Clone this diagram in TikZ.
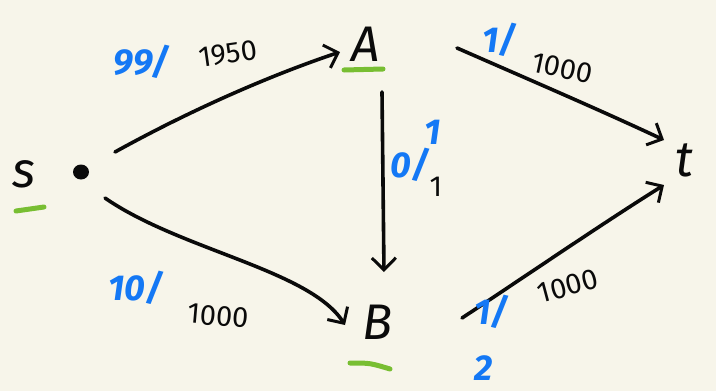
\documentclass[tikz,border=0pt]{standalone}
\usepackage{fontspec}
\setmainfont{Fira Sans}
\usetikzlibrary{arrows.meta}
\definecolor{paper}{RGB}{247,245,234}
\definecolor{ink}{RGB}{10,10,10}
\definecolor{flowblue}{RGB}{20,120,245}
\definecolor{markgreen}{RGB}{120,190,50}
\tikzset{
  edge/.style={draw=ink, line width=3.6pt, line cap=round,
    -{Straight Barb[length=12pt, width=24pt, line width=3pt]}},
  vertex/.style={font=\fontsize{50}{50}\selectfont\itshape, text=ink, inner sep=0pt},
  capacity/.style={font=\fontsize{29}{29}\selectfont, text=ink, inner sep=0pt},
  flow/.style={font=\fontsize{36}{36}\selectfont\bfseries\itshape, text=flowblue, inner sep=0pt},
  greenline/.style={draw=markgreen, line width=5pt, line cap=round},
}
\begin{document}
\begin{tikzpicture}[x=1pt, y=-1pt]
  \fill[paper] (0,0) rectangle (716,391);
  \useasboundingbox (0,0) rectangle (716,391);

  % vertices
  \node[vertex] (s) at (24,174) {s};
  \fill[ink] (81,172) ellipse (8pt and 7.5pt);
  \coordinate (sdot) at (81,172);
  \node[vertex] (A) at (366,44) {A};
  \node[vertex] (B) at (378,322) {B};
  \node[vertex] (t) at (684,160) {t};

  % source/sink underlines
  \draw[greenline] (16,211) -- (44,207);
  \draw[greenline] (344,70) -- (383,69);
  \draw[greenline] (350,363) .. controls (370,363) .. (390,369);

  % edges
  \coordinate (sA0) at (115,152);
  \coordinate (sA1) at (340,52);
  \draw[edge] (sA0) .. controls (200,105) and (280,72) .. (sA1);

  \coordinate (At0) at (457,48);
  \coordinate (At1) at (664,140);
  \draw[edge] (At0) .. controls (530,80) and (600,110) .. (At1);

  \coordinate (AB0) at (382,92);
  \coordinate (AB1) at (384,272);
  \draw[edge] (AB0) -- (AB1);

  \coordinate (sB0) at (105,198);
  \coordinate (sB1) at (345,325);
  \draw[edge] (sB0) .. controls (180,250) and (310,270) .. (sB1);

  \coordinate (Bt0) at (462,318);
  \coordinate (Bt1) at (664,185);
  \draw[edge] (Bt0) .. controls (520,280) and (600,225) .. (Bt1);

  % capacities and flows
  \node[flow] (fsA) at (142,62) {99/};
  \node[capacity, rotate=8] (csA) at (228,54) {1950};

  \node[flow] (fAt) at (500,40) {1/};
  \node[capacity, rotate=-12] (cAt) at (562,68) {1000};

  \node[flow] (fAB1) at (433,132) {1};
  \node[flow] (fAB) at (410,165) {0/};
  \node[capacity] (cAB) at (436,187) {1};

  \node[flow] (fsB) at (136,288) {10/};
  \node[capacity, rotate=-5] (csB) at (218,316) {1000};

  \node[flow] (fBt) at (492,312) {1/};
  \node[flow] (fBt2) at (484,368) {2};
  \node[capacity, rotate=15] (cBt) at (568,286) {1000};
\end{tikzpicture}
\end{document}
